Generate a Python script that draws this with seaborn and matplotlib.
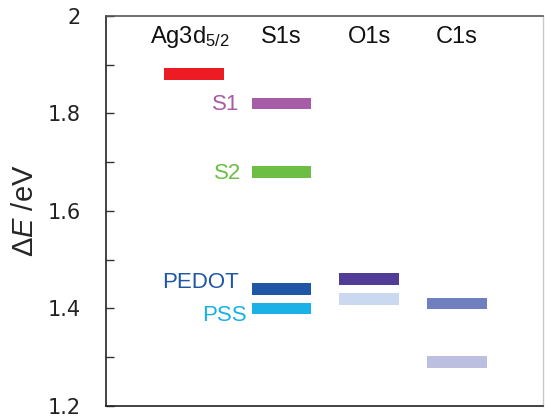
import matplotlib
matplotlib.use("Agg")
import matplotlib.pyplot as plt
import seaborn as sns
import pandas as pd
from matplotlib.ticker import MultipleLocator, FixedLocator

# Core-level groups along the x axis
groups = ["Ag3d$_{5/2}$", "S1s", "O1s", "C1s"]

# One level per component: group index, energy shift and colour
levels = ["Ag", "S1", "S2", "PEDOT", "PSS", "O1s-a", "O1s-b", "C1s-a", "C1s-b"]
group_idx = [0, 1, 1, 1, 1, 2, 2, 3, 3]
delta_e = [1.88, 1.82, 1.68, 1.44, 1.40, 1.46, 1.42, 1.41, 1.29]
colors = ["#ED1C24", "#A65CA6", "#6CBE45", "#1F56A5", "#19B1E6",
          "#513D97", "#CAD9EF", "#6F7FBF", "#BDBFE0"]

# Coloured annotations beside the S1s levels
tag_text = ["S1", "S2", "PEDOT", "PSS"]
tag_color = ["#A65CA6", "#6CBE45", "#1F56A5", "#19B1E6"]

df = pd.DataFrame({"level": levels, "group": group_idx, "dE": delta_e, "color": colors})

sns.set_style("ticks")
plt.rcParams["font.family"] = ["Liberation Sans", "DejaVu Sans"]
plt.rcParams["mathtext.fontset"] = "custom"
plt.rcParams["mathtext.rm"] = "Liberation Sans"
plt.rcParams["mathtext.it"] = "Liberation Sans:italic"

fig = plt.figure(figsize=(5.45, 4.16), dpi=100)
ax = fig.add_axes([0.1945, 0.024, 0.8015, 0.938])

bar_w = 0.68
bar_h = 0.024
ax.bar(df["group"], bar_h, bottom=df["dE"] - bar_h / 2, width=bar_w,
       color=df["color"], edgecolor="none")

ax.set_xlim(-1.0, 3.98)
ax.set_ylim(1.2, 2.0)
ax.set_xticks([])

ax.yaxis.set_major_locator(FixedLocator([1.2, 1.4, 1.6, 1.8, 2.0]))
ax.set_yticklabels(["1.2", "1.4", "1.6", "1.8", "2"], family="DejaVu Sans", fontsize=15)
ax.yaxis.set_minor_locator(MultipleLocator(0.1))
ax.tick_params(axis="y", which="both", direction="in", length=6, width=1,
               color="#333333", pad=18, labelcolor="#222222")

ax.set_ylabel(r"$\Delta$$\it{E}$ /eV", fontsize=21, labelpad=6)

for side in ["left", "bottom"]:
    ax.spines[side].set_color("#222222")
    ax.spines[side].set_linewidth(1.2)
ax.spines["top"].set_color("#555555")
ax.spines["top"].set_linewidth(1.2)
ax.spines["right"].set_color("#c8c8c8")
ax.spines["right"].set_linewidth(1.0)

# Group titles along the top
for i, g in enumerate(groups):
    xo = -0.04 if i == 0 else 0.0
    ax.text(i + xo, 1.957, g, ha="center", va="center", fontsize=17, color="#111111")

# Labels next to the S1s levels
tag_x = [0.52, 0.54, 0.52, 0.61]
tag_y = [1.818, 1.677, 1.453, 1.385]
for t, c, x, y in zip(tag_text, tag_color, tag_x, tag_y):
    ax.text(x, y, t, ha="right", va="center", fontsize=16, color=c)

fig.savefig("out.png", dpi=100)
